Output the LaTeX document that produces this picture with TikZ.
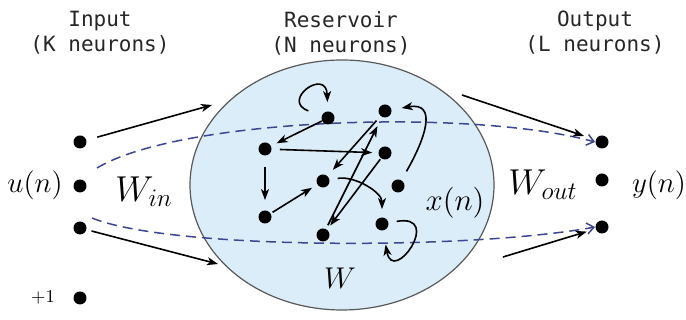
\RequirePackage{fix-cm}
\documentclass[tikz,border=0pt]{standalone}
\usepackage{fontspec}
\newfontfamily\monofont{DejaVu Sans Mono}
\usetikzlibrary{arrows.meta,shapes.geometric}
\definecolor{resfill}{RGB}{219,237,249}
\definecolor{dashblue}{RGB}{60,70,145}
\begin{document}
\begin{tikzpicture}[
    x=0.5pt, y=0.5pt,
    dot/.style={circle,fill,inner sep=0pt,minimum size=6.5pt},
    arr/.style={line width=0.8pt,-{Stealth[length=5.5pt,width=4pt,inset=1.5pt]},shorten >=3pt,shorten <=3pt},
    dasharr/.style={line width=0.75pt,dashblue,dash pattern=on 5pt off 3pt,-{Straight Barb[length=3.5pt,width=5.5pt]}},
    head/.style={align=center,font=\monofont\fontsize{10.5}{12.5}\selectfont,text=black!85},
    lbl/.style={inner sep=0pt,font=\fontsize{14.5}{16}\selectfont},
    biglbl/.style={inner sep=0pt,font=\fontsize{18}{20}\selectfont}
  ]
  \useasboundingbox (0,0) rectangle (686,320);

  % headers
  \node[head] (hin) at (100,287) {Input\\(K neurons)};
  \node[head] (hres) at (341,287) {Reservoir\\(N neurons)};
  \node[head] (hout) at (595,287) {Output\\(L neurons)};

  % reservoir
  \node[ellipse,draw=black!65,line width=0.6pt,fill=resfill,
        minimum width=152pt,minimum height=125pt] (res) at (342,135) {};

  % input and output units
  \node[dot] (i1) at (80,178) {};
  \node[dot] (i2) at (80,134) {};
  \node[dot] (i3) at (80,92) {};
  \node[dot] (ib) at (80,22) {};
  \node[dot] (o1) at (602,178) {};
  \node[dot] (o2) at (602,140) {};
  \node[dot] (o3) at (602,93) {};

  \coordinate (inA) at (212,215);
  \coordinate (inB) at (218,56);
  \coordinate (outA) at (462,225);
  \coordinate (outB) at (503,63);
  \coordinate (du) at (97,152);
  \coordinate (dl) at (92,102);

  % readout paths
  \draw[dasharr] (du) .. controls (180,202) and (470,212) .. (o1.west);
  \draw[dasharr] (dl) .. controls (170,70) and (470,70) .. (o3.west);

  % reservoir units
  \node[dot] (r1) at (328,202) {};
  \node[dot] (r2) at (385,209) {};
  \node[dot] (r3) at (265,171) {};
  \node[dot] (r4) at (385,167) {};
  \node[dot] (r5) at (323,139) {};
  \node[dot] (r6) at (398,134) {};
  \node[dot] (r7) at (265,103) {};
  \node[dot] (r8) at (382,96) {};
  \node[dot] (r9) at (323,85) {};

  % input and output weights
  \draw[arr,shorten <=5.5pt,shorten >=0pt] (i1) -- (inA);
  \draw[arr,shorten <=2.5pt,shorten >=0pt] (i3) -- (inB);
  \draw[arr,shorten <=0pt,shorten >=6pt] (outA) -- (o1);
  \draw[arr,shorten <=0pt,shorten >=4.5pt] (outB) -- (o3);

  % recurrent connections
  \draw[arr,shorten <=0pt] (r1) -- (r3);
  \draw[arr,shorten <=4pt] (r3) -- (r4);
  \draw[arr,shorten <=5.5pt,shorten >=5pt] (r3) -- (r7);
  \draw[arr,shorten <=1pt] (r7) -- (r5);
  \draw[arr,shorten >=4pt] (r2) -- (r5);
  \draw[arr,shorten <=2pt,shorten >=5pt] (r9) -- (r2);
  \draw[arr,shorten <=0.5pt,shorten >=2.5pt] (r4) -- (r9);
  \draw[arr,shorten <=4pt,shorten >=4pt] (r5) to[out=10,in=90] (r8);
  \draw[arr,shorten <=5pt,shorten >=5pt] (r6) to[out=60,in=10,looseness=1.7] (r2);
  \draw[arr,shorten <=7pt,shorten >=4.5pt] (r1) to[out=160,in=92,min distance=22pt] (r1);
  \draw[arr,shorten <=4pt,shorten >=7pt] (r8) to[out=10,in=-80,min distance=28pt] (r8);

  % labels
  \node[lbl] (un) at (35,135) {$u(n)$};
  \node[inner sep=0pt,font=\fontsize{9}{10}\selectfont] (one) at (43,22) {$+1$};
  \node[biglbl] (win) at (144,128) {$W_{in}$};
  \node[lbl,font=\fontsize{15.5}{17}\selectfont] (xn) at (455,117) {$x(n)$};
  \node[inner sep=0pt,font=\fontsize{15}{17}\selectfont] (wres) at (340,42) {$W$};
  \node[biglbl] (wout) at (543,135) {$W_{out}$};
  \node[lbl] (yn) at (659,135) {$y(n)$};
\end{tikzpicture}
\end{document}
